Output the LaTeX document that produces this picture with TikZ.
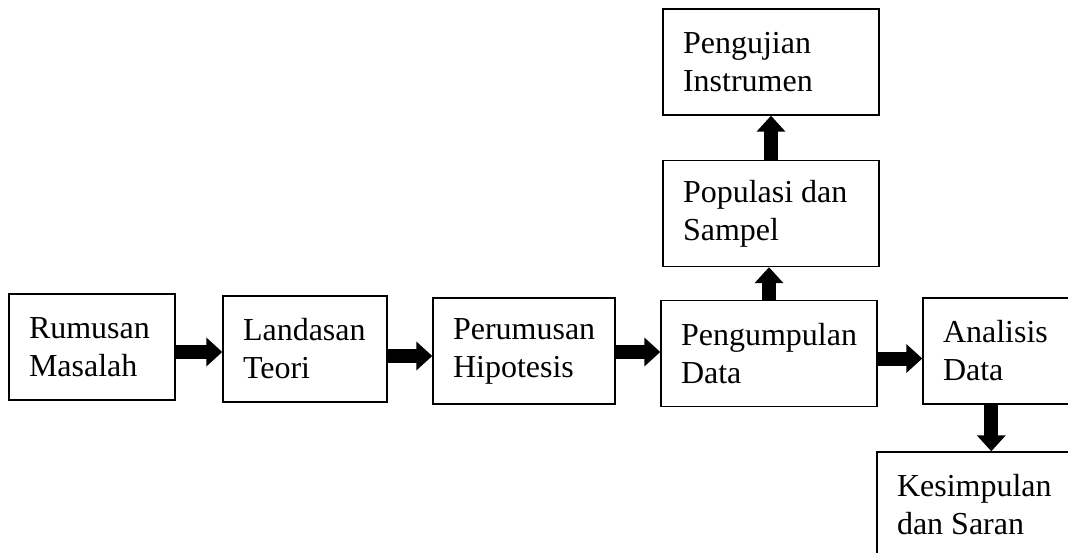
\documentclass[tikz,border=0pt]{standalone}
\usepackage{fontspec}
\setmainfont{Liberation Serif}
\usetikzlibrary{arrows.meta,shapes}
\tikzstyle{stage}=[draw,rectangle,line width=1.4pt,inner xsep=20pt,inner ysep=0pt,minimum height=106pt,align=flush left,font=\fontsize{32}{38}\selectfont]
\tikzstyle{flow}=[line width=14pt,-{Triangle[length=16pt,width=28pt]}]

\begin{document}
\begin{tikzpicture}[x=1pt,y=-1pt]
    \useasboundingbox (0,0) rectangle (1068,553);
    \clip (0,0) rectangle (1068,553);
    % First we draw the stages
    \foreach \pos/\name/\boxw/\textw/\txt in {{(92,347)/rumusan/166/126/{Rumusan\\Masalah}},
        {(305,349)/landasan/164/124/{Landasan\\Teori}},
        {(524,351)/perumusan/182/142/{Perumusan\\Hipotesis}},
        {(769,353.5)/pengumpulan/216/176/{Pengumpulan\\Data}},
        {(998,351)/analisis/150/110/{Analisis\\Data}},
        {(977,505)/kesimpulan/200/160/{Kesimpulan\\dan Saran}},
        {(771,213.5)/populasi/216/176/{Populasi dan\\Sampel}},
        {(771,62)/pengujian/216/176/{Pengujian\\Instrumen}}}
        \node[stage,minimum width=\boxw pt,text width=\textw pt] (\name) at \pos {\txt};

    % Then the block arrows between them
    \foreach \source/\dest/\shift in {rumusan/landasan/-5, landasan/perumusan/-7, perumusan/pengumpulan/-1, pengumpulan/analisis/-5}
        \draw[flow] ([yshift=\shift pt]\source.east) -- ([yshift=\shift pt]\source.east -| \dest.west);
    \foreach \source/\dest in {pengumpulan/populasi, populasi/pengujian}
        \draw[flow] (\source.north) -- (\source.north |- \dest.south);
    \draw[flow] ([xshift=69pt]analisis.south west) -- ([xshift=69pt]analisis.south west |- kesimpulan.north);
\end{tikzpicture}
\end{document}
